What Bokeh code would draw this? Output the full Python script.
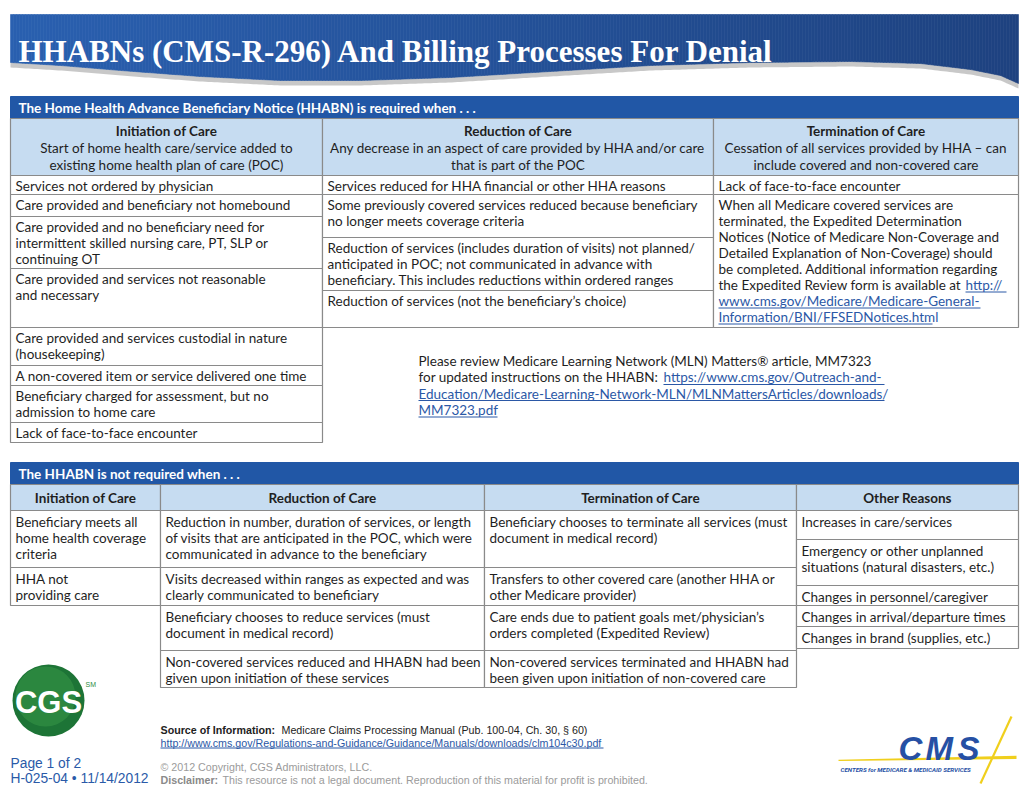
import numpy as np
from bokeh.plotting import figure
from bokeh.models import Range1d, ColumnDataSource
from bokeh.embed import file_html
from bokeh.resources import INLINE
from bokeh.core.properties import value

# ---------------- content ----------------
TITLE = "HHABNs (CMS-R-296) And Billing Processes For Denial"

REQ_BAR = "The Home Health Advance Beneficiary Notice (HHABN) is required when . . ."
REQ_HEADS = ["Initiation of Care", "Reduction of Care", "Termination of Care"]
REQ_HEAD_DESC = [
    ["Start of home health care/service added to", "existing home health plan of care (POC)"],
    ["Any decrease in an aspect of care provided by HHA and/or care", "that is part of the POC"],
    ["Cessation of all services provided by HHA \u2013 can", "include covered and non-covered care"],
]
REQ_INIT = [
    ["Services not ordered by physician"],
    ["Care provided and beneficiary not homebound"],
    ["Care provided and no beneficiary need for", "intermittent skilled nursing care, PT, SLP or", "continuing OT"],
    ["Care provided and services not reasonable", "and necessary"],
    ["Care provided and services custodial in nature", "(housekeeping)"],
    ["A non-covered item or service delivered one time"],
    ["Beneficiary charged for assessment, but no", "admission to home care"],
    ["Lack of face-to-face encounter"],
]
REQ_REDUC = [
    ["Services reduced for HHA financial or other HHA reasons"],
    ["Some previously covered services reduced because beneficiary", "no longer meets coverage criteria"],
    ["Reduction of services (includes duration of visits) not planned/",
     "anticipated in POC; not communicated in advance with",
     "beneficiary.  This includes reductions within ordered ranges"],
    ["Reduction of services (not the beneficiary\u2019s choice)"],
]
REQ_TERM = [
    ["Lack of face-to-face encounter"],
    ["When all Medicare covered services are", "terminated, the Expedited Determination",
     "Notices (Notice of Medicare Non-Coverage and", "Detailed Explanation of Non-Coverage) should",
     "be completed.  Additional information regarding", "the Expedited Review form is available at"],
]
REQ_TERM_LINK = ["http://", "www.cms.gov/Medicare/Medicare-General-", "Information/BNI/FFSEDNotices.html"]

NOTE_TEXT = ["Please review Medicare Learning Network (MLN) Matters\u00ae article, MM7323",
             "for updated instructions on the HHABN:"]
NOTE_LINK = ["https://www.cms.gov/Outreach-and-",
             "Education/Medicare-Learning-Network-MLN/MLNMattersArticles/downloads/",
             "MM7323.pdf"]

NOT_BAR = "The HHABN is not required when . . ."
NOT_HEADS = ["Initiation of Care", "Reduction of Care", "Termination of Care", "Other Reasons"]
NOT_INIT = [
    ["Beneficiary meets all", "home health coverage", "criteria"],
    ["HHA not", "providing care"],
]
NOT_REDUC = [
    ["Reduction in number, duration of services, or length", "of visits that are anticipated in the POC, which were",
     "communicated in advance to the beneficiary"],
    ["Visits decreased within ranges as expected and was", "clearly communicated to beneficiary"],
    ["Beneficiary chooses to reduce services (must", "document in medical record)"],
    ["Non-covered services reduced and HHABN had been", "given upon initiation of these services"],
]
NOT_TERM = [
    ["Beneficiary chooses to terminate all services (must", "document in medical record)"],
    ["Transfers to other covered care (another HHA or", "other Medicare provider)"],
    ["Care ends due to patient goals met/physician\u2019s", "orders completed (Expedited Review)"],
    ["Non-covered services terminated and HHABN had", "been given upon initiation of non-covered care"],
]
NOT_OTHER = [
    ["Increases in care/services"],
    ["Emergency or other unplanned", "situations (natural disasters, etc.)"],
    ["Changes in personnel/caregiver"],
    ["Changes in arrival/departure times"],
    ["Changes in brand (supplies, etc.)"],
]

SOURCE_LABEL = "Source of Information:"
SOURCE_TEXT = "Medicare Claims Processing Manual (Pub. 100-04, Ch. 30, \u00a7 60)"
SOURCE_LINK = "http://www.cms.gov/Regulations-and-Guidance/Guidance/Manuals/downloads/clm104c30.pdf"
COPYRIGHT = "\u00a9 2012 Copyright, CGS Administrators, LLC."
DISCLAIMER_LABEL = "Disclaimer:"
DISCLAIMER_TEXT = "This resource is not a legal document.  Reproduction of this material for profit is prohibited."
PAGE_INFO = ["Page 1 of 2", "H-025-04 \u2022 11/14/2012"]
CGS_LOGO = "CGS"
CMS_LOGO = ["C", "M", "S"]
CMS_SUB = "CENTERS for MEDICARE & MEDICAID SERVICES"

# ---------------- layout ----------------
BORDER = "#8a8a8a"
HEAD_FILL = "#c6dcf1"
BAR_FILL = "#2157a6"
INK = "#1f1f1f"
LINK = "#2b58a6"
FONT = "Lato"
FS = "13.5px"

p = figure(width=1028, height=799, x_range=Range1d(0, 1028), y_range=Range1d(799, 0),
           output_backend="svg", toolbar_location=None, min_border=0,
           x_axis_type=None, y_axis_type=None, outline_line_color=None,
           background_fill_color="white", border_fill_color="white")
p.grid.visible = False

texts = {}


def add(style, x, y, t):
    d = texts.setdefault(style, dict(x=[], y=[], text=[]))
    d["x"].append(x)
    d["y"].append(y)
    d["text"].append(t)


def lines_at(style, x, y0, lines, dy=16.0):
    for i, s in enumerate(lines):
        add(style, x, y0 + i * dy, s)


underlines = dict(x0=[], x1=[], y=[])


def uline(x0, x1, y):
    underlines["x0"].append(x0)
    underlines["x1"].append(x1)
    underlines["y"].append(y)


# ---- title banner (gradient strips with wavy bottom) ----
cx = [10, 60, 120, 200, 280, 360, 450, 550, 650, 750, 850, 920, 970, 1000, 1018]
cy = [62, 65, 70, 76, 80, 80, 77, 71, 65, 62, 61, 63, 69, 75, 83]
gx = np.arange(10, 1018.1, 3.0)
gy = np.interp(gx, cx, cy)
sh_x = list(gx) + list(gx[::-1])
sh_y = list(gy + 5) + list(gy[::-1] - 2)
p.patch(sh_x, sh_y, fill_color="#9a9a9a", fill_alpha=0.55, line_color=None)
sxs, sys_, scol = [], [], []
c0 = np.array([42, 96, 176])
c1 = np.array([30, 66, 128])
for i in range(len(gx) - 1):
    xa, xb = gx[i], gx[i + 1]
    ya, yb = gy[i], gy[i + 1]
    sxs.append([xa, xb, xb, xa])
    sys_.append([14, 14, yb, ya])
    t = (xa - 10) / 1008.0
    c = (c0 * (1 - t) + c1 * t).astype(int)
    scol.append("#%02x%02x%02x" % tuple(c))
p.patches(sxs, sys_, fill_color=scol, line_color=scol, line_width=0.6)
add("title", 18, 51, TITLE)

# ---- top table ----
X1 = [10, 322, 713, 1018]
p.quad(left=[10], right=[1018], top=[96], bottom=[118], fill_color=BAR_FILL, line_color=BAR_FILL)
add("bar", 18, 107.5, REQ_BAR)
p.quad(left=X1[:-1], right=X1[1:], top=[118] * 3, bottom=[175] * 3,
       fill_color=HEAD_FILL, line_color=BORDER, line_width=1.2)
for i in range(3):
    mid = (X1[i] + X1[i + 1]) / 2
    add("headb", mid, 130, REQ_HEADS[i])
    lines_at("bodyc", mid, 147, REQ_HEAD_DESC[i], 17)

init_edges = [175, 194, 216, 268, 327, 365, 385, 422, 442]
reduc_edges = [175, 194, 237, 290, 327]
term_edges = [175, 194, 327]
cols = [(0, init_edges, REQ_INIT), (1, reduc_edges, REQ_REDUC), (2, term_edges, REQ_TERM)]
for ci, edges, rows in cols:
    p.quad(left=[X1[ci]] * (len(edges) - 1), right=[X1[ci + 1]] * (len(edges) - 1),
           top=edges[:-1], bottom=edges[1:], fill_color="white", line_color=BORDER, line_width=1.2)
    for ri, row in enumerate(rows):
        lines_at("body", X1[ci] + 5, edges[ri] + 10.5, row)

# links in termination cell
ty = term_edges[1] + 10.5
add("link", 965, ty + 5 * 16, REQ_TERM_LINK[0])
uline(965, 1006, ty + 5 * 16 + 7)
add("link", 718, ty + 6 * 16, REQ_TERM_LINK[1])
uline(718, 980, ty + 6 * 16 + 7)
add("link", 718, ty + 7 * 16, REQ_TERM_LINK[2])
uline(718, 932, ty + 7 * 16 + 7)

# note
lines_at("body", 418, 360, NOTE_TEXT, 16.5)
add("link", 663, 376.5, NOTE_LINK[0])
uline(663, 884, 384)
add("link", 418, 393, NOTE_LINK[1])
uline(418, 884, 400)
add("link", 418, 409.5, NOTE_LINK[2])
uline(418, 497, 416.5)

# ---- bottom table ----
X2 = [10, 160, 484, 796, 1018]
p.quad(left=[10], right=[1018], top=[462], bottom=[484], fill_color=BAR_FILL, line_color=BAR_FILL)
add("bar", 18, 473, NOT_BAR)
p.quad(left=X2[:-1], right=X2[1:], top=[484] * 4, bottom=[510] * 4,
       fill_color=HEAD_FILL, line_color=BORDER, line_width=1.2)
for i in range(4):
    add("headb", (X2[i] + X2[i + 1]) / 2, 497.5, NOT_HEADS[i])

c1_edges = [510, 567, 605]
c2_edges = [510, 567, 605, 650, 687]
c3_edges = [510, 567, 605, 650, 687]
c4_edges = [510, 539, 585, 605, 626, 648]
cols2 = [(0, c1_edges, NOT_INIT), (1, c2_edges, NOT_REDUC), (2, c3_edges, NOT_TERM), (3, c4_edges, NOT_OTHER)]
for ci, edges, rows in cols2:
    p.quad(left=[X2[ci]] * (len(edges) - 1), right=[X2[ci + 1]] * (len(edges) - 1),
           top=edges[:-1], bottom=edges[1:], fill_color="white", line_color=BORDER, line_width=1.2)
    for ri, row in enumerate(rows):
        lines_at("body", X2[ci] + 5, edges[ri] + 11, row)

# ---- footer ----
add("footb", 160, 729, SOURCE_LABEL)
add("foot", 281, 729, SOURCE_TEXT)
add("footlink", 160, 742, SOURCE_LINK)
uline(160, 603, 747.5)
add("gray", 160, 766, COPYRIGHT)
add("grayb", 160, 779, DISCLAIMER_LABEL)
add("gray", 222, 779, DISCLAIMER_TEXT)
add("page", 10, 763, PAGE_INFO[0])
add("page", 10, 778, PAGE_INFO[1])

# CGS logo
p.circle(x=[48], y=[700], radius=36, fill_color="#1d7436", line_color=None)
p.circle(x=[45], y=[696], radius=30, fill_color="#2f8c42", line_color=None, fill_alpha=0.8)
add("cgs", 48, 702, CGS_LOGO)
add("sm", 85, 684, "SM")

# CMS logo
p.patch([838, 1016, 1016, 838], [759.2, 755.2, 758.6, 760.4], fill_color="#f0cf1c", line_color=None)
p.segment(x0=[1011], y0=[716], x1=[980], y1=[783], line_color="#f0cf1c", line_width=2.2)
for xx, ch in zip([898, 925, 957], CMS_LOGO):
    add("cms", xx, 748, ch)
add("cmssub", 840, 769, CMS_SUB)

p.segment(x0="x0", x1="x1", y0="y", y1="y", source=ColumnDataSource(underlines),
          line_color=LINK, line_width=1)

STYLES = {
    "title": dict(text_font=value("Liberation Serif"), text_font_size="31px", text_font_style="bold",
                  text_color="white", text_baseline="alphabetic", text_align="left"),
    "bar": dict(text_font=value(FONT), text_font_size=FS, text_font_style="bold",
                text_color="white", text_baseline="middle", text_align="left"),
    "headb": dict(text_font=value(FONT), text_font_size=FS, text_font_style="bold",
                  text_color=INK, text_baseline="middle", text_align="center"),
    "bodyc": dict(text_font=value(FONT), text_font_size=FS, text_color=INK,
                  text_baseline="middle", text_align="center"),
    "body": dict(text_font=value(FONT), text_font_size=FS, text_color=INK,
                 text_baseline="middle", text_align="left"),
    "link": dict(text_font=value(FONT), text_font_size=FS, text_color=LINK,
                 text_baseline="middle", text_align="left"),
    "footb": dict(text_font=value("Liberation Sans"), text_font_size="10.7px", text_font_style="bold",
                  text_color="#222222", text_baseline="middle", text_align="left"),
    "foot": dict(text_font=value("Liberation Sans"), text_font_size="10.7px",
                 text_color="#222222", text_baseline="middle", text_align="left"),
    "footlink": dict(text_font=value("Liberation Sans"), text_font_size="10.7px",
                     text_color=LINK, text_baseline="middle", text_align="left"),
    "gray": dict(text_font=value("Liberation Sans"), text_font_size="10.7px",
                 text_color="#9b9b9b", text_baseline="middle", text_align="left"),
    "grayb": dict(text_font=value("Liberation Sans"), text_font_size="10.7px", text_font_style="bold",
                  text_color="#8a8a8a", text_baseline="middle", text_align="left"),
    "page": dict(text_font=value("Liberation Sans"), text_font_size="13.8px",
                 text_color="#2a5aa8", text_baseline="middle", text_align="left"),
    "cgs": dict(text_font=value("Liberation Sans"), text_font_size="31px", text_font_style="bold",
                text_color="white", text_baseline="middle", text_align="center"),
    "sm": dict(text_font=value("Liberation Sans"), text_font_size="7px",
               text_color="#2f8c42", text_baseline="middle", text_align="left"),
    "cms": dict(text_font=value("Liberation Sans"), text_font_size="33px", text_font_style="bold italic",
                text_color="#2650a4", text_baseline="alphabetic", text_align="left"),
    "cmssub": dict(text_font=value("Roboto"), text_font_size="6.2px",
                   text_font_style="bold italic",
                   text_color="#2650a4", text_baseline="middle", text_align="left"),
}
for style, d in texts.items():
    p.text(x="x", y="y", text="text", source=ColumnDataSource(d), **STYLES[style])

open("out.html", "w").write(file_html(p, INLINE))
